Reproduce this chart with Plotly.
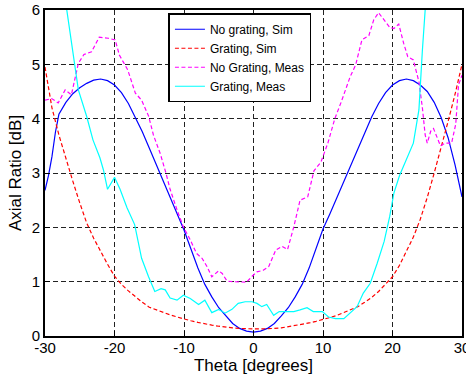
import plotly.graph_objects as go

# ---- data ----
theta_sim = [-30, -29.5, -29, -28.5, -28, -27, -26, -25, -24, -23, -22, -21, -20, -19, -18, -17, -16, -15,
             -14, -13, -12, -11, -10, -9, -8, -7, -6, -5, -4, -3, -2, -1, 0,
             1, 2, 3, 4, 5, 6, 7, 8, 9, 10, 11, 12, 13, 14, 15, 16, 17, 18, 19, 20,
             21, 22, 23, 24, 25, 26, 27, 28, 29, 30]
ar_nograting_sim = [2.68, 2.95, 3.3, 3.75, 4.08, 4.3, 4.46, 4.57, 4.65, 4.71, 4.73, 4.70, 4.62, 4.48, 4.28, 4.03, 3.76, 3.46,
                    3.16, 2.85, 2.55, 2.25, 1.95, 1.6, 1.25, 0.95, 0.72, 0.52, 0.37, 0.23, 0.14, 0.09, 0.07,
                    0.09, 0.14, 0.23, 0.37, 0.52, 0.72, 0.95, 1.25, 1.6, 1.97, 2.25, 2.55, 2.85, 3.15, 3.45, 3.75, 4.03, 4.28, 4.48, 4.62,
                    4.70, 4.73, 4.70, 4.62, 4.5, 4.3, 4.02, 3.65, 3.15, 2.56]

theta_sim_g = list(range(-30, 31))
ar_grating_sim = [4.95, 4.2, 3.7, 3.25, 2.85, 2.45, 2.08, 1.8, 1.55, 1.32, 1.1, 0.95, 0.83, 0.72, 0.62, 0.53,
                  0.48, 0.43, 0.39, 0.35, 0.31, 0.28, 0.25, 0.22, 0.2, 0.18, 0.16, 0.15, 0.14, 0.13, 0.13,
                  0.13, 0.13, 0.14, 0.15, 0.17, 0.19, 0.21, 0.24, 0.27, 0.3, 0.34, 0.38, 0.43, 0.48, 0.54,
                  0.62, 0.71, 0.82, 0.95, 1.09, 1.3, 1.55, 1.82, 2.15, 2.55, 3.0, 3.45, 3.95, 4.45, 5.0]

theta_meas_ng = [-30, -29.05, -28.1, -27.1, -26.2, -25.2, -24.4, -23.3, -22.2, -20.9, -19.9, -19.3, -18.1, -17.0,
                 -16.1, -15.1, -14.4, -13.4, -12.6, -12.0, -11.0, -10.1, -9.1, -8.2, -7.4, -6.7, -6.0, -5.0,
                 -4.5, -3.8, -2.9, -1.9, -1.0, -0.2, 0.5, 1.4, 2.2, 3.2, 4.1, 4.9, 5.8, 6.7, 7.8, 8.7, 9.7,
                 10.7, 11.7, 12.6, 13.9, 14.7, 15.6, 16.6, 17.3, 18.0, 18.8, 19.6, 20.2, 20.9, 21.6, 22.2,
                 23.0, 23.8, 24.3, 24.7, 25.0, 25.5, 25.9, 26.4, 26.9, 27.6, 28.5, 29.1, 29.5, 30]
ar_nograting_meas = [4.34, 4.37, 4.29, 4.53, 4.44, 5.02, 5.18, 5.23, 5.5, 5.48, 5.45, 5.17, 4.9, 4.47,
                     4.34, 4.05, 3.7, 3.35, 3.0, 2.7, 2.32, 2.01, 1.77, 1.52, 1.43, 1.28, 1.09, 1.2,
                     1.15, 1.01, 1.0, 1.0, 0.99, 1.1, 1.18, 1.21, 1.28, 1.58, 1.65, 1.59, 2.01, 2.5, 2.56, 3.04, 3.2,
                     3.55, 4.0, 4.3, 4.77, 4.99, 5.45, 5.53, 5.82, 5.95, 5.82, 5.68, 5.66, 5.74, 5.39, 5.14,
                     5.08, 4.68, 4.2, 3.7, 3.55, 3.77, 3.82, 3.64, 3.5, 3.55, 3.55, 3.9, 4.62, 4.8]

theta_meas_g = [-28, -26.9, -25.2, -24.0, -23.1, -22.1, -21.6, -21.0, -20.0, -19.2, -18.2, -17.1, -16.6, -16.1,
                -15.1, -14.2, -13.3, -12.7, -12.0, -11.0, -10.1, -9.1, -7.9, -7.0, -6.0, -5.0, -4.1, -3.1,
                -2.2, -1.2, -0.2, 0.5, 1.2, 1.9, 2.9, 3.7, 4.8, 5.8, 6.7, 7.7, 8.6, 9.9, 10.8, 11.8, 13.0,
                13.9, 14.9, 15.8, 16.8, 17.8, 18.8, 19.6, 20.2, 21.0, 22.1, 23.0, 23.8, 24.0, 24.3, 24.7, 25.2]
ar_grating_meas = [7.0, 6.0, 4.53, 4.04, 3.61, 3.28, 3.06, 2.7, 2.92, 2.7, 2.36, 2.05, 1.75, 1.43,
                   1.09, 0.82, 0.87, 0.85, 0.7, 0.66, 0.75, 0.69, 0.58, 0.66, 0.43, 0.49, 0.42, 0.49,
                   0.6, 0.63, 0.63, 0.6, 0.54, 0.58, 0.38, 0.45, 0.45, 0.45, 0.48, 0.52, 0.45, 0.45, 0.35, 0.32, 0.32,
                   0.42, 0.54, 0.79, 0.97, 1.34, 1.74, 2.2, 2.63, 2.95, 3.3, 3.55, 4.16, 4.71, 5.26, 6.0, 7.0]

x_tickvals = [-30, -20, -10, 0, 10, 20, 30]
x_ticktext = ["-30", "-20", "-10", "0", "10", "20", "30"]
y_tickvals = [0, 1, 2, 3, 4, 5, 6]
y_ticktext = ["0", "1", "2", "3", "4", "5", "6"]

FONT = "Liberation Sans, Arial, Helvetica, sans-serif"

fig = go.Figure()
fig.add_trace(go.Scatter(x=theta_sim, y=ar_nograting_sim, mode="lines", name="No grating, Sim",
                         line=dict(color="#0000FF", width=1.2)))
fig.add_trace(go.Scatter(x=theta_sim_g, y=ar_grating_sim, mode="lines", name="Grating, Sim",
                         line=dict(color="#FF0000", width=1.2, dash="4px,2.5px")))
fig.add_trace(go.Scatter(x=theta_meas_ng, y=ar_nograting_meas, mode="lines", name="No Grating, Meas",
                         line=dict(color="#FF00FF", width=1.2, dash="4px,2.5px")))
fig.add_trace(go.Scatter(x=theta_meas_g, y=ar_grating_meas, mode="lines", name="Grating, Meas",
                         line=dict(color="#00FFFF", width=1.2)))

axis_common = dict(
    automargin=False,
    showline=True, mirror=True, linecolor="black", linewidth=2,
    ticks="inside", ticklen=5, tickcolor="black", tickwidth=1,
    showgrid=True, gridcolor="#222222", gridwidth=1, griddash="5px,3px",
    zeroline=False, tickfont=dict(family=FONT, size=15, color="black"),
    ticklabeloverflow="allow",
)

fig.update_xaxes(range=[-30, 30], tickvals=x_tickvals, ticktext=x_ticktext, ticklabelstandoff=-3,
                 title=dict(text="Theta [degrees]", font=dict(family=FONT, size=17, color="black"), standoff=4),
                 **axis_common)
fig.update_yaxes(range=[0, 6], tickvals=y_tickvals, ticktext=y_ticktext,
                 title=dict(text="Axial Ratio [dB]", font=dict(family=FONT, size=17, color="black"), standoff=6),
                 **axis_common)

fig.update_layout(
    template="none",
    width=466, height=381,
    margin=dict(l=45, r=4, t=10, b=45, autoexpand=False),
    paper_bgcolor="white", plot_bgcolor="white",
    font=dict(family=FONT, size=12, color="black"),
    legend=dict(x=0.296, y=0.99, xanchor="left", yanchor="top",
                bgcolor="white", bordercolor="black", borderwidth=1.5,
                font=dict(family=FONT, size=12, color="black"),
                tracegroupgap=0, itemwidth=30),
    showlegend=True,
)

fig.write_html("out.html", config={"displayModeBar": False},
               post_script="document.body.style.margin='0';document.body.style.overflow='hidden';")
